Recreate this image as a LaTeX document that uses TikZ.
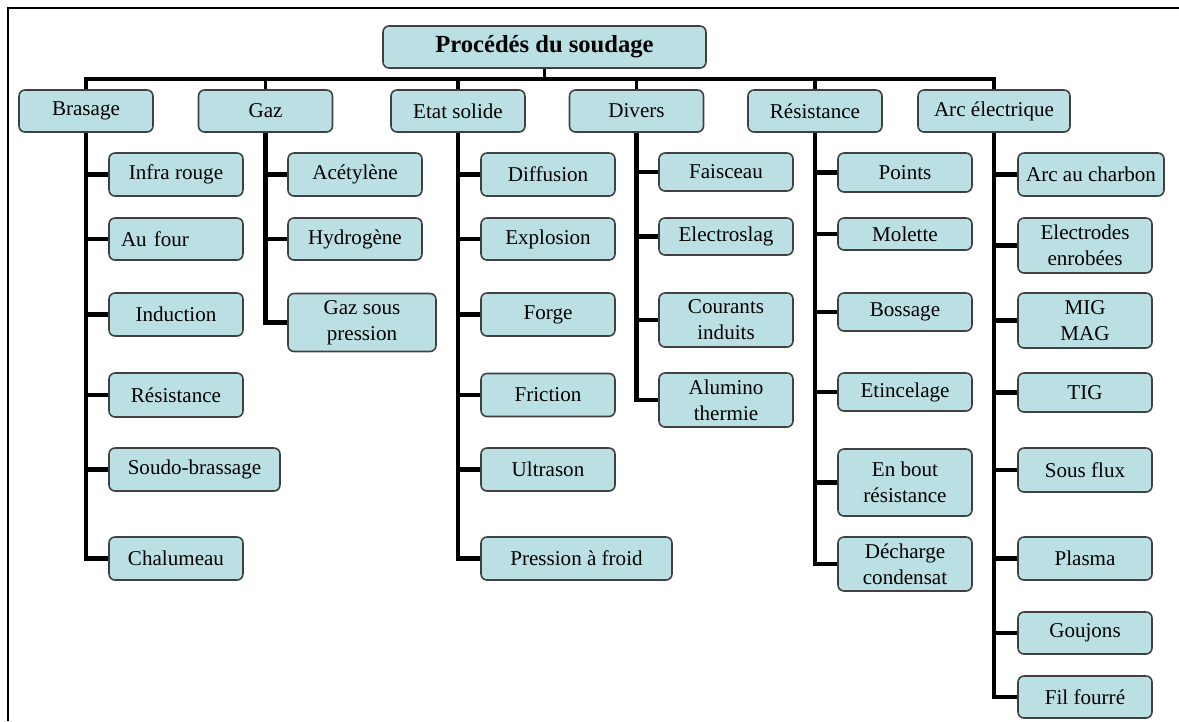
\documentclass[tikz,border=0pt]{standalone}
\usepackage{fontspec}
\setmainfont{Liberation Serif}
\definecolor{boxfill}{RGB}{187,224,227}
\definecolor{boxline}{RGB}{64,64,64}

\begin{document}
\begin{tikzpicture}[x=0.02cm,y=-0.02cm,
  head/.style={rectangle,rounded corners=0.12cm,draw=boxline,fill=boxfill,line width=0.9pt,align=center,inner sep=1pt,minimum width=6.46cm,minimum height=0.84cm,font=\fontsize{14}{16}\selectfont\bfseries},
  cat/.style={rectangle,rounded corners=0.12cm,draw=boxline,fill=boxfill,line width=0.9pt,align=center,inner sep=1pt,minimum width=2.68cm,minimum height=0.84cm,font=\fontsize{12}{14.7}\selectfont},
  sub/.style={cat,minimum height=0.86cm},
  bar/.style={line width=2pt},
  link/.style={line width=2.3pt},
  frame/.style={line width=1.1pt}
]
\useasboundingbox (0,0) rectangle (1179,721);
\draw[frame] (1179,8) -- (8,8) -- (8,721);

\node[head] (root) at (544.5,47) {Procédés du soudage};
\coordinate (hub) at (544.5,79);

\node[cat] (brasage) at (86,111) {Brasage};
\node[cat] (gaz) at (265.5,111) {Gaz};
\node[cat] (etat) at (458,111) {Etat solide};
\node[cat] (divers) at (636.5,111) {Divers};
\node[cat] (resist) at (815,111) {Résistance};
\node[cat,minimum width=3.04cm] (arc) at (994,111) {Arc électrique};

% brasage
\node[sub] (infra) at (176,174.5) {Infra rouge};
\node[sub,minimum height=0.84cm,align=left,text width=2.2cm] (four) at (176,239) {Au four};
\node[sub] (induc) at (176,314.5) {Induction};
\node[sub,minimum height=0.88cm] (bres) at (176,395) {Résistance};
\node[sub,minimum width=3.42cm] (soudo) at (194.5,469.5) {Soudo-brassage};
\node[sub] (chal) at (176,558.5) {Chalumeau};

% gaz
\node[sub] (acet) at (355,174.5) {Acétylène};
\node[sub,minimum height=0.84cm] (hydro) at (355,239) {Hydrogène};
\node[sub,minimum width=2.96cm,minimum height=1.16cm] (gazp) at (362,322.5) {Gaz sous\\pression};

% etat solide
\node[sub] (diff) at (548,174.5) {Diffusion};
\node[sub,minimum height=0.84cm] (explo) at (548,239) {Explosion};
\node[sub] (forge) at (548,314.5) {Forge};
\node[sub] (fric) at (548,395) {Friction};
\node[sub] (ultra) at (548,469.5) {Ultrason};
\node[sub,minimum width=3.82cm] (froid) at (576.5,558.5) {Pression à froid};

% divers
\node[sub,minimum height=0.76cm] (faisc) at (726,172) {Faisceau};
\node[sub,minimum height=0.74cm] (eslag) at (726,236.5) {Electroslag};
\node[sub,minimum height=1.08cm] (cour) at (726,320) {Courants\\induits};
\node[sub,minimum height=1.08cm] (alum) at (726,400) {Alumino\\thermie};

% resistance
\node[sub,minimum height=0.78cm] (points) at (905,172.5) {Points};
\node[sub,minimum height=0.64cm] (mol) at (905,234) {Molette};
\node[sub,minimum height=0.76cm] (boss) at (905,312) {Bossage};
\node[sub,minimum height=0.76cm] (etinc) at (905,392) {Etincelage};
\node[sub,minimum height=1.34cm] (bout) at (905,482.5) {En bout\\résistance};
\node[sub,minimum height=1.08cm] (dech) at (905,564) {Décharge\\condensat};

% arc
\node[sub,minimum width=2.92cm] (charb) at (1091,174.5) {Arc au charbon};
\node[sub,minimum height=1.1cm] (elec) at (1085,245.5) {Electrodes\\enrobées};
\node[sub,minimum height=1.1cm] (mig) at (1085,320.5) {MIG\\MAG};
\node[sub,minimum height=0.78cm] (tig) at (1085,392.5) {TIG};
\node[sub,minimum height=0.88cm] (flux) at (1085,470) {Sous flux};
\node[sub] (plasma) at (1085,558.5) {Plasma};
\node[sub,minimum height=0.84cm] (gouj) at (1085,633) {Goujons};
\node[sub,minimum height=0.84cm] (fil) at (1085,697) {Fil fourré};

\draw[bar] (root) -- (hub);
\draw[bar] (hub) -| (brasage);
\draw[bar] (hub) -| (gaz);
\draw[bar] (hub) -| (etat);
\draw[bar] (hub) -| (divers);
\draw[bar] (hub) -| (resist);
\draw[bar] (hub) -| (arc);

\draw[link] (brasage.south) |- (infra.west);
\draw[link] (brasage.south) |- (four.west);
\draw[link] (brasage.south) |- (induc.west);
\draw[link] (brasage.south) |- (bres.west);
\draw[link] (brasage.south) |- (soudo.west);
\draw[link] (brasage.south) |- (chal.west);

\draw[link] (gaz.south) |- (acet.west);
\draw[link] (gaz.south) |- (hydro.west);
\draw[link] (gaz.south) |- (gazp.west);

\draw[link] (etat.south) |- (diff.west);
\draw[link] (etat.south) |- (explo.west);
\draw[link] (etat.south) |- (forge.west);
\draw[link] (etat.south) |- (fric.west);
\draw[link] (etat.south) |- (ultra.west);
\draw[link] (etat.south) |- (froid.west);

\draw[link] (divers.south) |- (faisc.west);
\draw[link] (divers.south) |- (eslag.west);
\draw[link] (divers.south) |- (cour.west);
\draw[link] (divers.south) |- (alum.west);

\draw[link] (resist.south) |- (points.west);
\draw[link] (resist.south) |- (mol.west);
\draw[link] (resist.south) |- (boss.west);
\draw[link] (resist.south) |- (etinc.west);
\draw[link] (resist.south) |- (bout.west);
\draw[link] (resist.south) |- (dech.west);

\draw[link] (arc.south) |- (charb.west);
\draw[link] (arc.south) |- (elec.west);
\draw[link] (arc.south) |- (mig.west);
\draw[link] (arc.south) |- (tig.west);
\draw[link] (arc.south) |- (flux.west);
\draw[link] (arc.south) |- (plasma.west);
\draw[link] (arc.south) |- (gouj.west);
\draw[link] (arc.south) |- (fil.west);
\end{tikzpicture}
\end{document}
